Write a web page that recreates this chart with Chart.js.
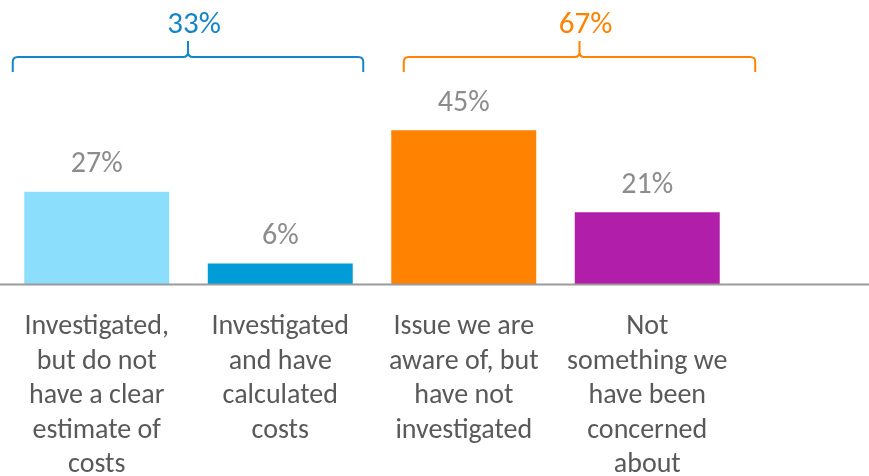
<!DOCTYPE html>
<html>
<head>
<meta charset="utf-8">
<script src="https://cdn.jsdelivr.net/npm/chart.js@4"></script>
<style>
  html, body { margin: 0; padding: 0; background: #fff; }
  #wrap { width: 869px; height: 476px; position: relative; }
</style>
</head>
<body>
<div id="wrap"><canvas id="chart"></canvas></div>
<script>
const categories = [
    ['Investigated,', 'but do not', 'have a clear', 'estimate of', 'costs'],
    ['Investigated', 'and have', 'calculated', 'costs'],
    ['Issue we are', 'aware of, but', 'have not', 'investigated'],
    ['Not', 'something we', 'have been', 'concerned', 'about'],
]
const values = [27, 6, 45, 21]
const barColors = ['#8BDEFC', '#009CD8', '#FF8200', '#B01EAA']
const groupLabels = ['33%', '67%']
const groupColors = ['#1585C8', '#FF8200']
const groupRanges = [[0, 1], [2, 3]]

const FONT = "Carlito, Lato, 'Liberation Sans', sans-serif"

const decorations = {
    id: 'decorations',
    afterDatasetsDraw(chart) {
        const { ctx, scales } = chart
        const x = scales.x
        const y = scales.y
        const base = y.getPixelForValue(0)

        // axis line across full width
        ctx.save()
        ctx.strokeStyle = '#9A9A9A'
        ctx.lineWidth = 2
        ctx.beginPath()
        ctx.moveTo(0, base + 0.5)
        ctx.lineTo(chart.width, base + 0.5)
        ctx.stroke()

        // value labels
        ctx.fillStyle = '#8C8C8C'
        ctx.font = `30px ${FONT}`
        ctx.textAlign = 'center'
        ctx.textBaseline = 'middle'
        values.forEach((v, i) => {
            ctx.fillText(v + '%', x.getPixelForValue(i), y.getPixelForValue(v) - 27)
        })

        // category labels
        ctx.fillStyle = '#595959'
        ctx.font = `28px ${FONT}`
        categories.forEach((lines, i) => {
            lines.forEach((t, j) => {
                ctx.fillText(t, x.getPixelForValue(i), base + 43 + j * 34.5)
            })
        })

        // braces
        const offs = [[-84, 83], [-60, 108]]
        groupRanges.forEach((r, g) => {
            const x0 = x.getPixelForValue(r[0]) + offs[g][0]
            const x1 = x.getPixelForValue(r[1]) + offs[g][1]
            const xm = (x0 + x1) / 2
            const yb = 72, yh = 57, yt = 41, rad = 5
            ctx.strokeStyle = groupColors[g]
            ctx.lineWidth = 2
            ctx.beginPath()
            ctx.moveTo(x0, yb)
            ctx.lineTo(x0, yh + rad)
            ctx.quadraticCurveTo(x0, yh, x0 + rad, yh)
            ctx.lineTo(xm - rad, yh)
            ctx.quadraticCurveTo(xm, yh, xm, yh - rad)
            ctx.lineTo(xm, yt)
            ctx.moveTo(xm, yh - rad)
            ctx.quadraticCurveTo(xm, yh, xm + rad, yh)
            ctx.lineTo(x1 - rad, yh)
            ctx.quadraticCurveTo(x1, yh, x1, yh + rad)
            ctx.lineTo(x1, yb)
            ctx.stroke()
            ctx.fillStyle = groupColors[g]
            ctx.font = `31px ${FONT}`
            ctx.fillText(groupLabels[g], xm + 6, 25)
        })
        ctx.restore()
    },
}

new Chart(document.getElementById('chart'), {
    type: 'bar',
    data: {
        labels: categories,
        datasets: [
            {
                data: values,
                backgroundColor: barColors,
                barPercentage: 0.79,
                categoryPercentage: 1,
            },
        ],
    },
    options: {
        responsive: true,
        maintainAspectRatio: false,
        animation: false,
        layout: { padding: { left: 5, right: 130, top: 79, bottom: 192 } },
        plugins: { legend: { display: false }, tooltip: { enabled: false } },
        scales: {
            x: { display: false },
            y: { display: false, min: 0, max: 60 },
        },
    },
    plugins: [decorations],
})
</script>
</body>
</html>
